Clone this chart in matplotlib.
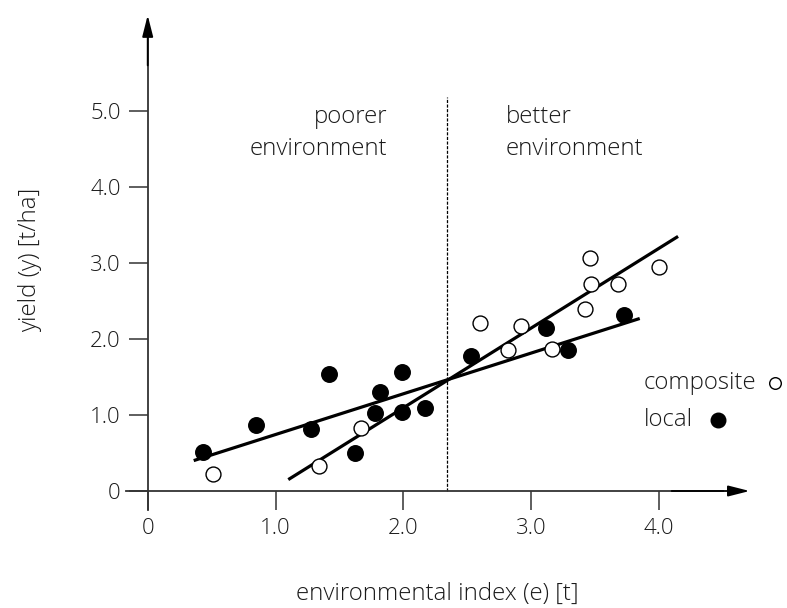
import matplotlib
matplotlib.use("Agg")
import matplotlib.pyplot as plt

# data
local_x = [0.43, 0.85, 1.28, 1.42, 1.62, 1.78, 1.82, 1.99, 1.99, 2.17, 2.53, 3.12, 3.29, 3.73]
local_y = [0.51, 0.87, 0.82, 1.54, 0.50, 1.02, 1.30, 1.56, 1.04, 1.09, 1.78, 2.14, 1.86, 2.31]
comp_x = [0.51, 1.34, 1.67, 2.60, 2.82, 2.92, 3.16, 3.42, 3.46, 3.47, 3.68, 4.00]
comp_y = [0.22, 0.33, 0.83, 2.21, 1.86, 2.17, 1.87, 2.40, 3.06, 2.73, 2.73, 2.95]
local_line_x = [0.36, 3.85]
local_line_y = [0.40, 2.27]
comp_line_x = [1.10, 4.15]
comp_line_y = [0.15, 3.35]
divider_x = 2.34
xticks = [0, 1.0, 2.0, 3.0, 4.0]
xticklabels = ["0", "1.0", "2.0", "3.0", "4.0"]
yticks = [0, 1.0, 2.0, 3.0, 4.0, 5.0]
yticklabels = ["0", "1.0", "2.0", "3.0", "4.0", "5.0"]

plt.rcParams['font.family'] = ['Open Sans', 'DejaVu Sans']
plt.rcParams['font.weight'] = 300
FS = 16
FL = 17.3
TC = '#1a1a1a'
AX = '#333333'

fig = plt.figure(figsize=(7.87, 6.08), dpi=100)
W, H = 787, 608
x0px, xs = 147.7, 127.8
y0px, ys = 117.0, 76.0
xlim = (-0.3, 4.85)
ylim = (-0.4, 6.4)
left = (x0px + xlim[0] * xs) / W
width = (xlim[1] - xlim[0]) * xs / W
bottom = (y0px + ylim[0] * ys) / H
height = (ylim[1] - ylim[0]) * ys / H
ax = fig.add_axes([left, bottom, width, height])
ax.set_xlim(*xlim)
ax.set_ylim(*ylim)
ax.patch.set_visible(False)

for s in ['top', 'right']:
    ax.spines[s].set_visible(False)
ax.spines['left'].set_position(('data', 0))
ax.spines['bottom'].set_position(('data', 0))
ax.spines['left'].set_bounds(-0.25, 6.0)
ax.spines['bottom'].set_bounds(-0.17, 4.5)
for s in ['left', 'bottom']:
    ax.spines[s].set_color(AX)
    ax.spines[s].set_linewidth(1.3)

ax.set_xticks(xticks)
ax.set_xticklabels(xticklabels)
ax.set_yticks(yticks)
ax.set_yticklabels(yticklabels)
ax.tick_params(direction='out', length=13.5, width=1.1, color=AX, labelsize=FS,
               labelcolor=TC)
ax.tick_params(axis='x', pad=6)
ax.tick_params(axis='y', pad=6)

# arrows
ax.annotate('', xy=(4.71, 0), xytext=(4.1, 0),
            arrowprops=dict(arrowstyle='-|>,head_length=1.3,head_width=0.33', color='black', lw=1.3,
                            shrinkA=0, shrinkB=0), annotation_clip=False)
ax.annotate('', xy=(0, 6.26), xytext=(0, 5.6),
            arrowprops=dict(arrowstyle='-|>,head_length=1.3,head_width=0.33', color='black', lw=1.3,
                            shrinkA=0, shrinkB=0), annotation_clip=False)

# divider
ax.plot([divider_x, divider_x], [0, 5.18], color='black', lw=0.9, ls=(0, (2.5, 1.2)))

# regression lines
ax.plot(local_line_x, local_line_y, color='black', lw=2.3, solid_capstyle='butt')
ax.plot(comp_line_x, comp_line_y, color='black', lw=2.3, solid_capstyle='butt')

# points
ax.scatter(local_x, local_y, s=125, color='black', zorder=3)
ax.scatter(comp_x, comp_y, s=115, facecolor='white', edgecolor='black', linewidth=1.0, zorder=3)

# annotations
ax.text(1.875, 5.08, "poorer\nenvironment", ha='right', va='top', fontsize=FL,
        color=TC, linespacing=1.45)
ax.text(2.80, 5.08, "better\nenvironment", ha='left', va='top', fontsize=FL,
        color=TC, linespacing=1.45)

# legend
ax.text(3.88, 1.42, "composite", ha='left', va='center', fontsize=FL, color=TC)
ax.scatter([4.91], [1.42], s=70, facecolor='white', edgecolor='black', linewidth=1.0, clip_on=False, zorder=3)
ax.text(3.88, 0.93, "local", ha='left', va='center', fontsize=FL, color=TC)
ax.scatter([4.46], [0.93], s=110, color='black', clip_on=False, zorder=3)

fig.text(437 / W, 1 - 594 / H, "environmental index (e) [t]", ha='center', va='center',
         fontsize=FL, color=TC)
fig.text(30 / W, 1 - 260 / H, "yield (y) [t/ha]", ha='center', va='center', rotation=90,
         fontsize=FL, color=TC)

fig.savefig("out.png", dpi=100)
